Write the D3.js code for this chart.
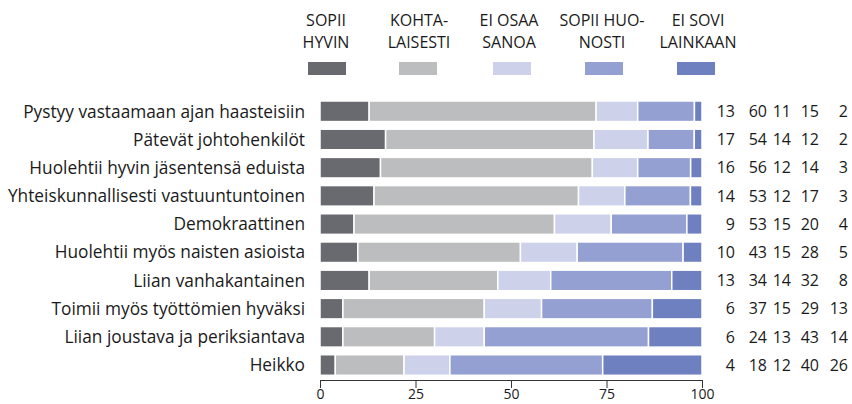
<!DOCTYPE html>
<html><head><meta charset="utf-8">
<script src="https://cdn.jsdelivr.net/npm/d3@7"></script>
<style>body{margin:0;background:#fff}svg{display:block}text{font-family:"Open Sans",sans-serif;fill:#1a1a1a}</style>
</head><body><svg id="c" width="852" height="404"></svg>
<script>
const categories = ["Pystyy vastaamaan ajan haasteisiin","Pätevät johtohenkilöt","Huolehtii hyvin jäsentensä eduista","Yhteiskunnallisesti vastuuntuntoinen","Demokraattinen","Huolehtii myös naisten asioista","Liian vanhakantainen","Toimii myös työttömien hyväksi","Liian joustava ja periksiantava","Heikko"];
const seriesNames = [["SOPII","HYVIN"],["KOHTA-","LAISESTI"],["EI OSAA","SANOA"],["SOPII HUO-","NOSTI"],["EI SOVI","LAINKAAN"]];
const sopiiHyvin   = [13,17,16,14,9,10,13,6,6,4];
const kohtalaisesti= [60,54,56,53,53,43,34,37,24,18];
const eiOsaaSanoa  = [11,14,12,12,15,15,14,15,13,12];
const sopiiHuonosti= [15,12,14,17,20,28,32,29,43,40];
const eiSoviLainkaan=[2,2,3,3,4,5,8,13,14,26];
const tickValues = [0,25,50,75,100];
const colors = ["#696a6f","#bcbdbf","#cdd1ea","#94a0d1","#6f80c1"];

const series = [sopiiHyvin,kohtalaisesti,eiOsaaSanoa,sopiiHuonosti,eiSoviLainkaan];
const svg = d3.select("#c");
const x = d3.scaleLinear().domain([0,100]).range([320,702]);
const y = d3.scaleBand().domain(categories).range([101,375.3]).paddingInner(0.27).paddingOuter(0);

const rows = categories.map((c,i)=>{
  const vals = series.map(s=>s[i]);
  const tot = d3.sum(vals);
  let acc = 0;
  return {c, vals, segs: vals.map((v,k)=>{const s={k,x0:acc/tot*100,x1:(acc+v)/tot*100}; acc+=v; return s;})};
});

const g = svg.selectAll("g.row").data(rows).join("g").attr("class","row");
g.selectAll("rect").data(d=>d.segs.map(s=>({...s,c:d.c}))).join("rect")
  .attr("x",d=>x(d.x0)).attr("width",d=>x(d.x1)-x(d.x0))
  .attr("y",d=>y(d.c)).attr("height",y.bandwidth())
  .attr("fill",d=>colors[d.k]).attr("stroke","#fff").attr("stroke-width",1.5);

g.append("text").attr("x",305).attr("y",d=>y(d.c)+y.bandwidth()/2).attr("dy","0.36em")
  .attr("text-anchor","end").attr("font-size",17.3).text(d=>d.c);

const colX = [735,767,791,819,848];
g.selectAll("text.v").data(d=>d.vals.map((v,k)=>({v,k,c:d.c}))).join("text").attr("class","v")
  .attr("x",d=>colX[d.k]).attr("y",d=>y(d.c)+y.bandwidth()/2).attr("dy","0.36em")
  .attr("text-anchor","end").attr("font-size",16).text(d=>d.v);

// legend
const legX = [326,419,509,602,698];
const lg = svg.selectAll("g.leg").data(seriesNames).join("g").attr("class","leg");
lg.append("rect").attr("x",(d,i)=>[308,399,493,585,677][i]).attr("y",62).attr("width",38).attr("height",13).attr("fill",(d,i)=>colors[i]);
lg.each(function(d,i){
  d3.select(this).selectAll("text").data(d).join("text")
    .attr("x",legX[i]).attr("y",(t,j)=>26+j*22).attr("text-anchor","middle").attr("font-size",16).text(t=>t);
});

// axis
const ax = svg.append("g").attr("transform","translate(0,380)")
  .call(d3.axisBottom(x).tickValues(tickValues).tickSize(8).tickPadding(1));
ax.select(".domain").attr("stroke","#333");
ax.selectAll(".tick line").attr("stroke","#333");
ax.selectAll(".tick text").attr("font-size",14).attr("font-family","'Open Sans',sans-serif").attr("fill","#1a1a1a");
</script></body></html>
